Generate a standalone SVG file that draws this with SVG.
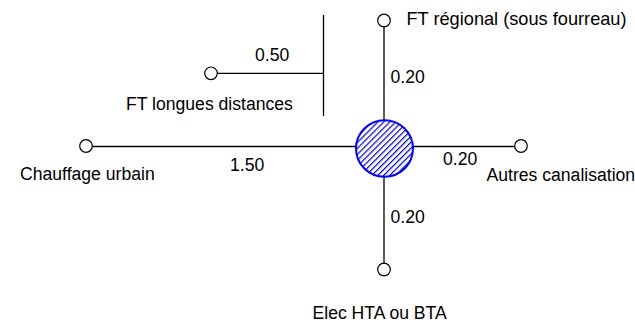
<svg xmlns="http://www.w3.org/2000/svg" width="635" height="326" viewBox="0 0 635 326">
<style>
.ln{stroke:#000;stroke-width:1.3;fill:none}
.end{stroke:#000;stroke-width:1.2;fill:#fff}
text{font-family:"Liberation Sans",Arial,sans-serif;font-size:17.6px;fill:#000}
</style>
<defs>
<pattern id="hatch" patternUnits="userSpaceOnUse" width="4.2" height="4.2" patternTransform="rotate(45)">
<rect width="4.2" height="4.2" fill="#fff"/>
<line x1="0" y1="0" x2="0" y2="4.2" stroke="#0000ff" stroke-width="2.4"/>
</pattern>
</defs>
<rect width="635" height="326" fill="#fff"/>
<g id="connectors">
<line class="ln" x1="86" y1="146.5" x2="520" y2="146.5"/>
<line class="ln" x1="384" y1="20" x2="384" y2="270"/>
<line class="ln" x1="211" y1="73.3" x2="323.5" y2="73.3"/>
<line class="ln" x1="323.5" y1="15" x2="323.5" y2="116"/>
<text x="255" y="61">0.50</text>
<text x="390.5" y="83">0.20</text>
<text x="230" y="171">1.50</text>
<text x="443" y="165">0.20</text>
<text x="390.5" y="223">0.20</text>
</g>
<g id="center">
<ellipse cx="384.5" cy="148.5" rx="28.5" ry="28.3" fill="url(#hatch)" stroke="#0000ff" stroke-width="2"/>
</g>
<g id="ft-regional">
<circle class="end" cx="384" cy="20.5" r="6.3"/>
<text x="406.5" y="25" style="font-size:18.2px">FT régional (sous fourreau)</text>
</g>
<g id="ft-longues">
<circle class="end" cx="211" cy="73.3" r="6.3"/>
<text x="126" y="110">FT longues distances</text>
</g>
<g id="chauffage">
<circle class="end" cx="86" cy="146" r="6.3"/>
<text x="20" y="180">Chauffage urbain</text>
</g>
<g id="autres">
<circle class="end" cx="521" cy="146" r="6.3"/>
<text x="486.5" y="181">Autres canalisation</text>
</g>
<g id="elec">
<circle class="end" cx="384" cy="269.5" r="6.3"/>
<text x="312.5" y="319">Elec HTA ou BTA</text>
</g>
</svg>
